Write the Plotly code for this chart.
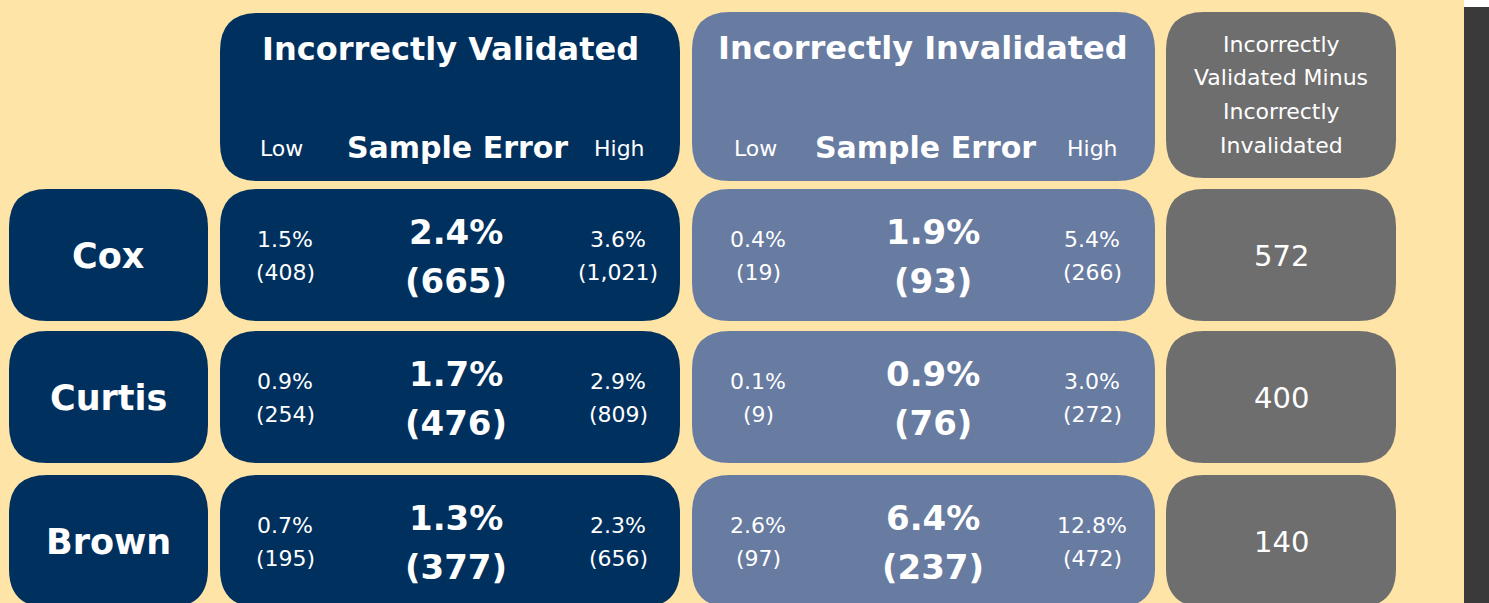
import plotly.graph_objects as go

# ---------------- data ----------------
names = ["Cox", "Curtis", "Brown"]
iv_low_pct = ["1.5%", "0.9%", "0.7%"]
iv_low_n = ["(408)", "(254)", "(195)"]
iv_mid_pct = ["2.4%", "1.7%", "1.3%"]
iv_mid_n = ["(665)", "(476)", "(377)"]
iv_high_pct = ["3.6%", "2.9%", "2.3%"]
iv_high_n = ["(1,021)", "(809)", "(656)"]
ii_low_pct = ["0.4%", "0.1%", "2.6%"]
ii_low_n = ["(19)", "(9)", "(97)"]
ii_mid_pct = ["1.9%", "0.9%", "6.4%"]
ii_mid_n = ["(93)", "(76)", "(237)"]
ii_high_pct = ["5.4%", "3.0%", "12.8%"]
ii_high_n = ["(266)", "(272)", "(472)"]
difference = ["572", "400", "140"]
header_iv = "Incorrectly Validated"
header_ii = "Incorrectly Invalidated"
header_diff = ["Incorrectly", "Validated Minus", "Incorrectly", "Invalidated"]
sub_labels = ["Low", "Sample Error", "High"]

# ---------------- style ----------------
W, H = 1489, 603
BG = "#FFE4A8"
NAVY = "#00305E"
SLATE = "#687BA0"
GRAY = "#6E6E6E"
FONT = "DejaVu Sans"

# column extents (pixels)
col_name = (9, 208)
col_iv = (220, 680)
col_ii = (692, 1155)
col_diff = (1166, 1396)
head_y = (12, 181)
row_tops = [189, 331, 475]
row_h = 132
R = 38


def rounded(x0, x1, y0, y1, r, color):
    path = (f"M{x0+r},{y0} L{x1-r},{y0} Q{x1},{y0} {x1},{y0+r} "
            f"L{x1},{y1-r} Q{x1},{y1} {x1-r},{y1} L{x0+r},{y1} "
            f"Q{x0},{y1} {x0},{y1-r} L{x0},{y0+r} Q{x0},{y0} {x0+r},{y0} Z")
    return dict(type="path", path=path, xref="x", yref="y",
                fillcolor=color, line=dict(width=0), layer="below")


shapes = []
annotations = []


def txt(x, y, s, size, bold=False):
    annotations.append(dict(x=x, y=y, xref="x", yref="y", text=f"<b>{s}</b>" if bold else s,
                            showarrow=False, xanchor="center", yanchor="middle",
                            font=dict(family=FONT, size=size, color="white")))


SMALL = 22
BIG = 34

# header boxes
shapes.append(rounded(col_iv[0], col_iv[1], head_y[0] + 1, head_y[1], R, NAVY))
shapes.append(rounded(col_ii[0], col_ii[1], head_y[0], head_y[1], R, SLATE))
shapes.append(rounded(col_diff[0], col_diff[1], head_y[0], head_y[1] - 3, R, GRAY))

txt(450, 49, header_iv, 32, True)
txt(281, 148, sub_labels[0], SMALL)
txt(457, 147, sub_labels[1], 30, True)
txt(619, 148, sub_labels[2], SMALL)

txt(923, 48, header_ii, 32, True)
txt(755, 148, sub_labels[0], SMALL)
txt(925, 147, sub_labels[1], 30, True)
txt(1092, 148, sub_labels[2], SMALL)

for i, line in enumerate(header_diff):
    txt(1281, 44 + i * 33.7, line, SMALL)

for i, top in enumerate(row_tops):
    bottom = top + row_h
    shapes.append(rounded(col_name[0], col_name[1], top, bottom, R, NAVY))
    shapes.append(rounded(col_iv[0], col_iv[1], top, bottom, R, NAVY))
    shapes.append(rounded(col_ii[0], col_ii[1], top, bottom, R, SLATE))
    shapes.append(rounded(col_diff[0], col_diff[1], top, bottom, R, GRAY))
    cy = top + 67
    txt(108, cy, names[i], 35, True)
    # incorrectly validated
    txt(285, cy - 17, iv_low_pct[i], SMALL)
    txt(285, cy + 16, iv_low_n[i], SMALL)
    txt(456, cy - 24, iv_mid_pct[i], BIG, True)
    txt(456, cy + 25, iv_mid_n[i], BIG, True)
    txt(618, cy - 17, iv_high_pct[i], SMALL)
    txt(618, cy + 16, iv_high_n[i], SMALL)
    # incorrectly invalidated
    txt(758, cy - 17, ii_low_pct[i], SMALL)
    txt(758, cy + 16, ii_low_n[i], SMALL)
    txt(933, cy - 24, ii_mid_pct[i], BIG, True)
    txt(933, cy + 25, ii_mid_n[i], BIG, True)
    txt(1092, cy - 17, ii_high_pct[i], SMALL)
    txt(1092, cy + 16, ii_high_n[i], SMALL)
    # difference
    txt(1281, cy, difference[i], 29)

# right edge strip
shapes.append(dict(type="rect", xref="x", yref="y", x0=1464, x1=W, y0=0, y1=7,
                   fillcolor="white", line=dict(width=0), layer="below"))
shapes.append(dict(type="rect", xref="x", yref="y", x0=1464, x1=W, y0=7, y1=H,
                   fillcolor="#3A3A3A", line=dict(width=0), layer="below"))

fig = go.Figure()
fig.add_trace(go.Scatter(x=[0, W], y=[0, H], mode="markers", marker=dict(opacity=0),
                         hoverinfo="skip", showlegend=False))
fig.update_layout(
    width=W, height=H, margin=dict(l=0, r=0, t=0, b=0),
    paper_bgcolor=BG, plot_bgcolor=BG,
    xaxis=dict(range=[0, W], visible=False, fixedrange=True),
    yaxis=dict(range=[H, 0], visible=False, fixedrange=True),
    shapes=shapes, annotations=annotations, showlegend=False,
)
fig.write_html("out.html", config={"displayModeBar": False},
               post_script="document.body.style.margin='0';document.body.style.overflow='hidden';")
